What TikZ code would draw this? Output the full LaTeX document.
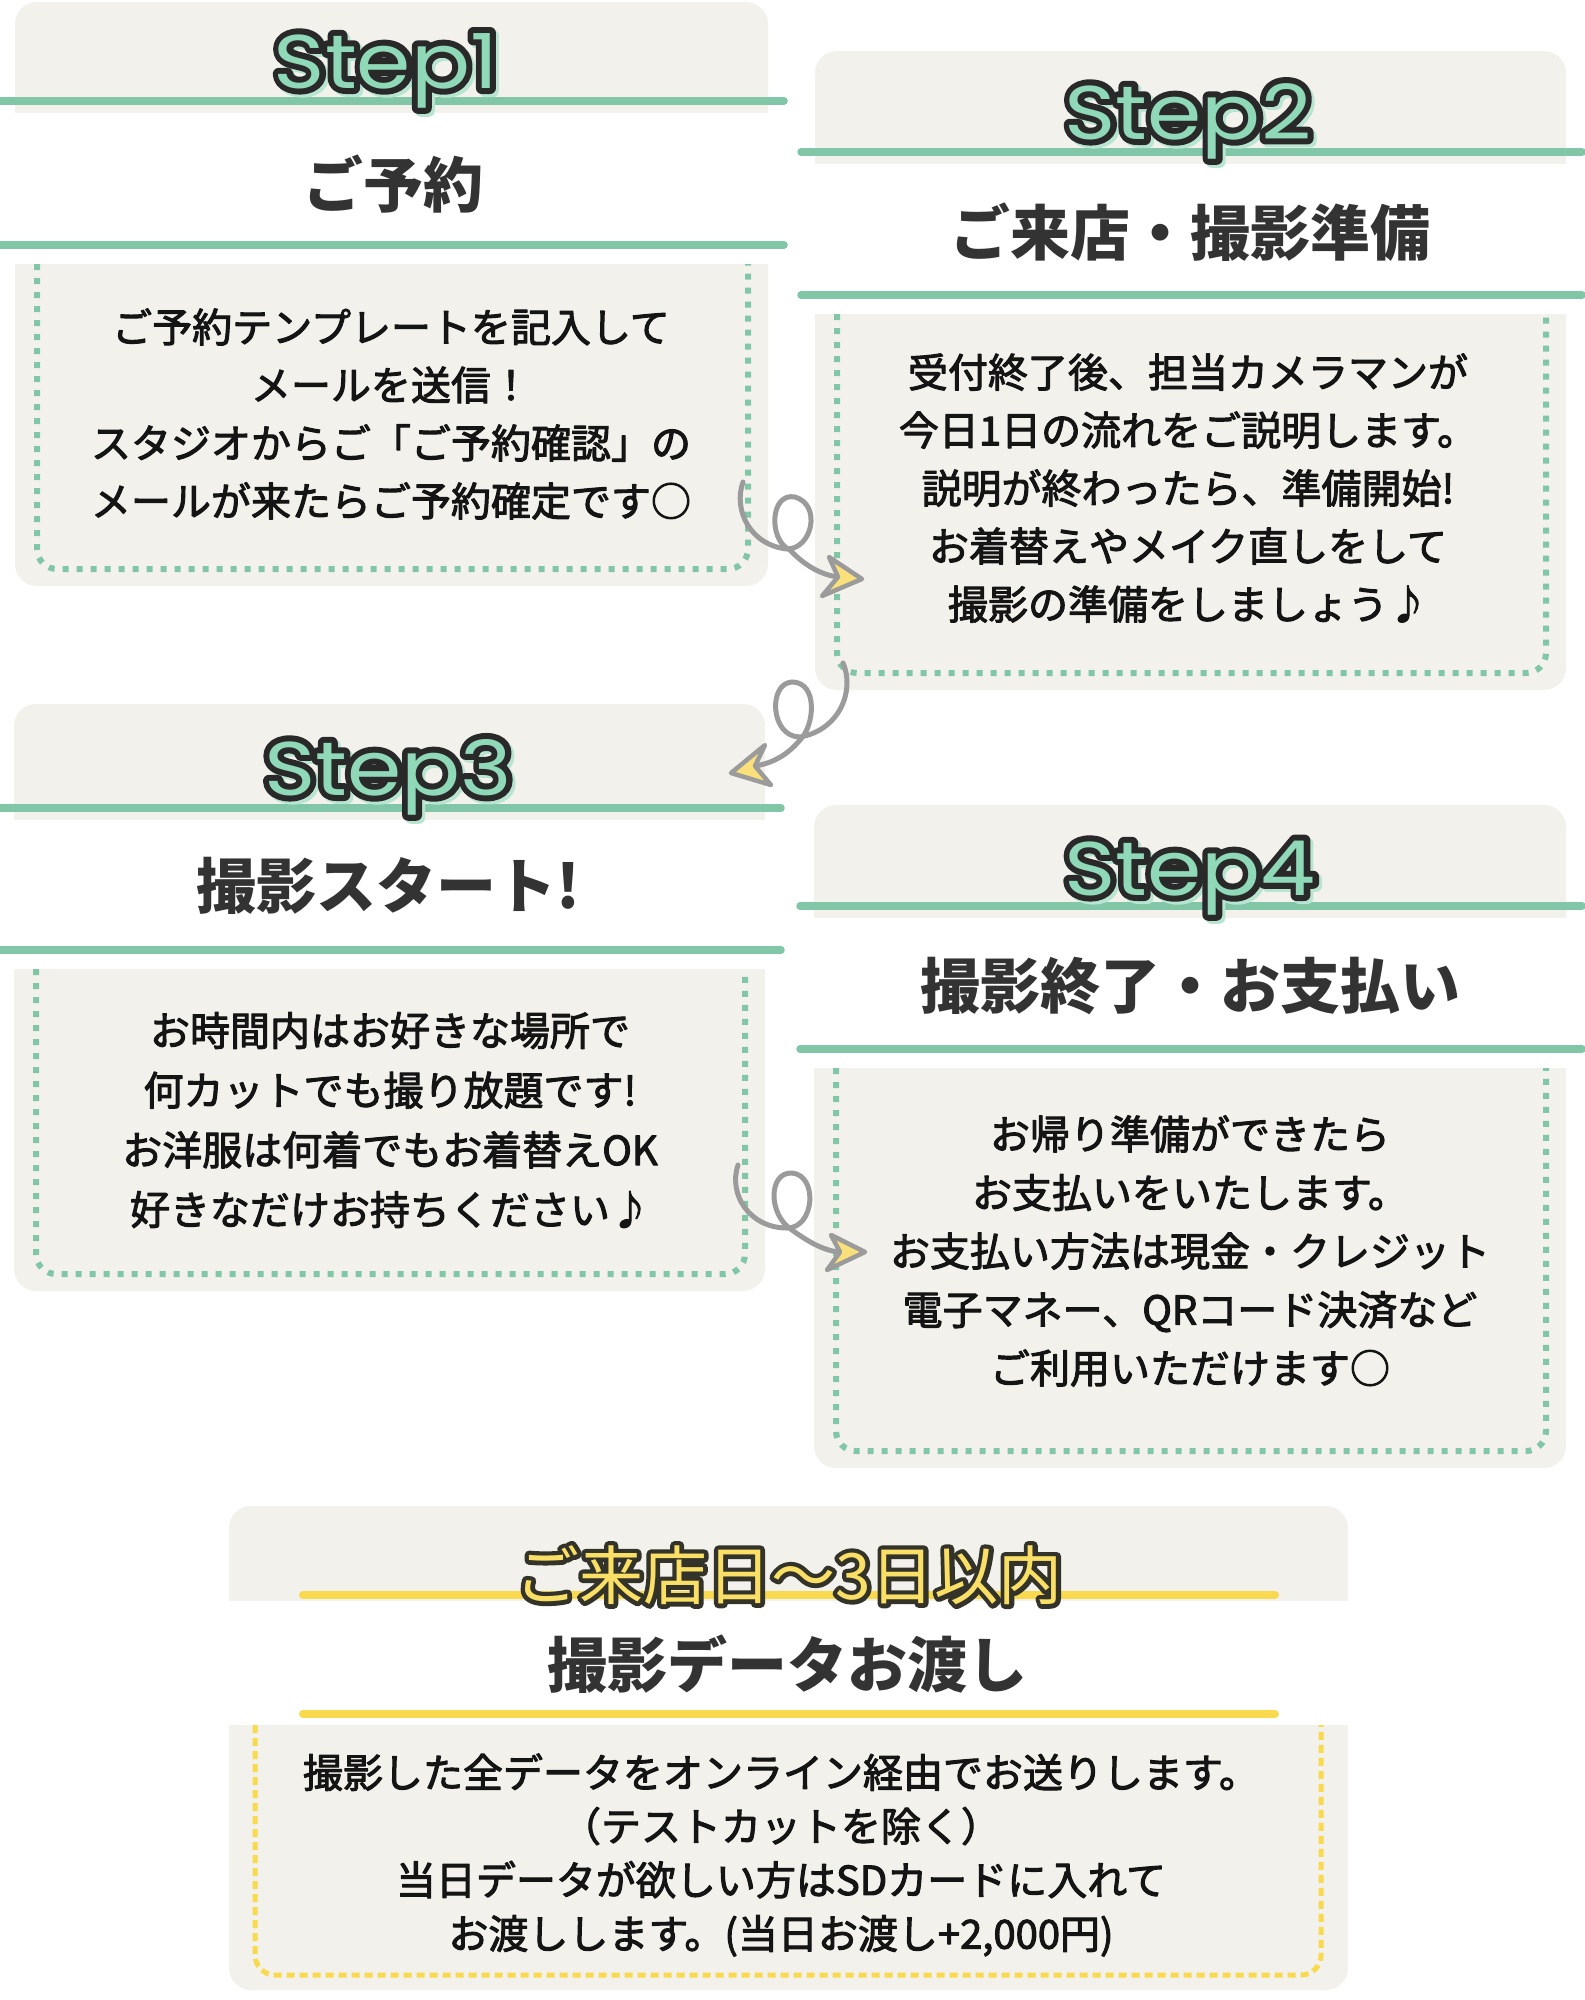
\documentclass[tikz,border=0pt]{standalone}
\usepackage{fontspec}
\setmainfont{Noto Sans CJK JP}
\newfontfamily\stepfont{Poppins}[FakeStretch=1.15]

\definecolor{cardbg}{HTML}{F3F1EB}
\definecolor{stepgreen}{HTML}{80C6A7}
\definecolor{mint}{HTML}{8FD8B8}
\definecolor{mintshade}{HTML}{B8E6D2}
\definecolor{inkdark}{HTML}{2A2A2A}
\definecolor{titlegray}{HTML}{333333}
\definecolor{bodyink}{HTML}{151515}
\definecolor{sunyellow}{HTML}{F9D94E}
\definecolor{headyellow}{HTML}{F9DF66}
\definecolor{curlgray}{HTML}{9B9B9B}
\definecolor{tipyellow}{HTML}{F9E07A}

\def\outl#1#2#3{\special{pdf:literal direct #2 RG #1 w 1 j 2 Tr}#3\special{pdf:literal direct 0 Tr}}

\newcommand\stepcard[6]{%
  \fill[cardbg, rounded corners=22] (#1,#3) rectangle (#2,#6);
  \fill[white] ({#1-1},#4) rectangle ({#2+1},#5);
  \draw[brush] ({#1-14},{#4-12}) -- ({#2+16},{#4-12});
  \draw[brush] ({#1-14},{#5-19}) -- ({#2+16},{#5-19});
  \draw[dotbox] ({#1+22},#5) -- ({#1+22},{#6-17}) -- ({#2-20},{#6-17}) -- ({#2-20},#5);
}
\newcommand\stephead[3]{%
  \node[steptext, text=mintshade, xshift=3pt, yshift=-3pt] at (#2) {\outl{12}{0.72 0.9 0.82}{#3}};
  \node[steptext, text=inkdark] at (#2) {\outl{12}{0.16 0.16 0.16}{#3}};
  \node[steptext, text=mint] (#1) at (#2) {#3};
}

\begin{document}
\begin{tikzpicture}[x=1pt, y=-1pt,
    brush/.style={stepgreen, line width=7.5pt, line cap=round},
    brushyellow/.style={sunyellow, line width=8pt, line cap=round},
    dotbox/.style={stepgreen, line width=6pt, dash pattern=on 6pt off 8pt, rounded corners=20},
    dashyellow/.style={sunyellow, line width=5pt, dash pattern=on 8pt off 5pt, rounded corners=20},
    steptext/.style={font=\stepfont\fontsize{76}{76}\selectfont, anchor=base, inner sep=0pt},
    titletext/.style={font=\bfseries\fontsize{60}{60}\selectfont, text=titlegray, inner sep=0pt},
    bodytext/.style={font=\fontsize{40}{58}\selectfont, text=bodyink, align=center, inner sep=0pt},
    curl/.style={draw=curlgray, line width=5pt, line cap=round},
    curltip/.style={fill=tipyellow, draw=curlgray, line width=4.5pt, line join=round}]
  \useasboundingbox (0,0) rectangle (1585,2000);
  \fill[white] (0,0) rectangle (1585,2000);

  \stepcard{15}{768}{2}{113}{264}{586}
  \stepcard{815}{1566}{51}{164}{314}{690}
  \stepcard{14}{765}{704}{820}{969}{1291}
  \stepcard{814}{1566}{805}{918}{1068}{1468}

  \stephead{s1}{386,88}{Step1}
  \stephead{s2}{1188,139}{Step2}
  \stephead{s3}{388,795}{Step3}
  \stephead{s4}{1190,895}{Step4}

  \node[titletext] (t1) at (393,184) {ご予約};
  \node[titletext] (t2) at (1190,232) {ご来店・撮影準備};
  \node[titletext] (t3) at (388,886) {撮影スタート!};
  \node[titletext] (t4) at (1190,986) {撮影終了・お支払い};

  \node[bodytext] (b1) at (391,414) {\outl{1}{0.08 0.08 0.08}{ご予約テンプレートを記入して\\メールを送信！\\スタジオからご「ご予約確認」の\\メールが来たらご予約確定です○}};
  \node[bodytext] (b2) at (1188,488) {\outl{1}{0.08 0.08 0.08}{受付終了後、担当カメラマンが\\今日1日の流れをご説明します。\\説明が終わったら、準備開始!\\お着替えやメイク直しをして\\撮影の準備をしましょう♪}};
  \node[bodytext, font=\fontsize{40}{59.7}\selectfont] (b3) at (390,1120) {\outl{1}{0.08 0.08 0.08}{お時間内はお好きな場所で\\何カットでも撮り放題です!\\お洋服は何着でもお着替えOK\\好きなだけお持ちください♪}};
  \node[bodytext, font=\fontsize{40}{58.5}\selectfont] (b4) at (1190,1251) {\outl{1}{0.08 0.08 0.08}{お帰り準備ができたら\\お支払いをいたします。\\お支払い方法は現金・クレジット\\電子マネー、QRコード決済など\\ご利用いただけます○}};

  \fill[cardbg, rounded corners=22] (229,1506) rectangle (1348,1990);
  \fill[white] (228,1601) rectangle (1349,1725);
  \draw[brushyellow] (303,1595) -- (1275,1595);
  \draw[brushyellow] (303,1714) -- (1275,1714);
  \draw[dashyellow] (255,1725) -- (255,1975) -- (1321,1975) -- (1321,1725);
  \node[font=\fontsize{64}{64}\selectfont, text=inkdark, inner sep=0pt] at (789,1575) {\outl{9}{0.2 0.2 0.16}{ご来店日〜3日以内}};
  \node[font=\fontsize{64}{64}\selectfont, text=headyellow, inner sep=0pt] (s5) at (789,1575) {ご来店日〜3日以内};
  \node[titletext] (t5) at (787,1664) {撮影データお渡し};
  \node[bodytext, font=\fontsize{40}{53.7}\selectfont] (b5) at (781,1855) {\outl{1}{0.08 0.08 0.08}{撮影した全データをオンライン経由でお送りします。\\（テストカットを除く）\\当日データが欲しい方はSDカードに入れて\\お渡しします。(当日お渡し+2,000円)}};

  \coordinate (c1s) at (743,482);
  \coordinate (c1e) at (838,577);
  \coordinate (c2s) at (843,663);
  \coordinate (c2e) at (755,766);
  \coordinate (c3s) at (738,1165);
  \coordinate (c3e) at (840,1252);
  \draw[curl] (c1s) .. controls (733,510) and (750,545) .. (787,549) .. controls (812,549) and (822,505) .. (795,497) .. controls (770,492) and (768,540) .. (790,550) .. controls (805,566) and (822,575) .. (c1e);
  \draw[curl] (c2s) .. controls (855,690) and (840,730) .. (800,737) .. controls (770,737) and (768,683) .. (792,682) .. controls (818,682) and (815,725) .. (800,740) .. controls (785,758) and (768,764) .. (c2e);
  \draw[curl] (c3s) .. controls (728,1195) and (750,1228) .. (787,1228) .. controls (815,1228) and (818,1175) .. (792,1173) .. controls (768,1172) and (768,1215) .. (792,1230) .. controls (810,1243) and (825,1251) .. (c3e);
  \filldraw[curltip] (862,579) -- (829,557) -- (c1e) -- (822,596) -- cycle;
  \filldraw[curltip] (731,773) -- (765,745) -- (c2e) -- (771,785) -- cycle;
  \filldraw[curltip] (865,1252) -- (831,1235) -- (c3e) -- (827,1270) -- cycle;
\end{tikzpicture}
\end{document}
